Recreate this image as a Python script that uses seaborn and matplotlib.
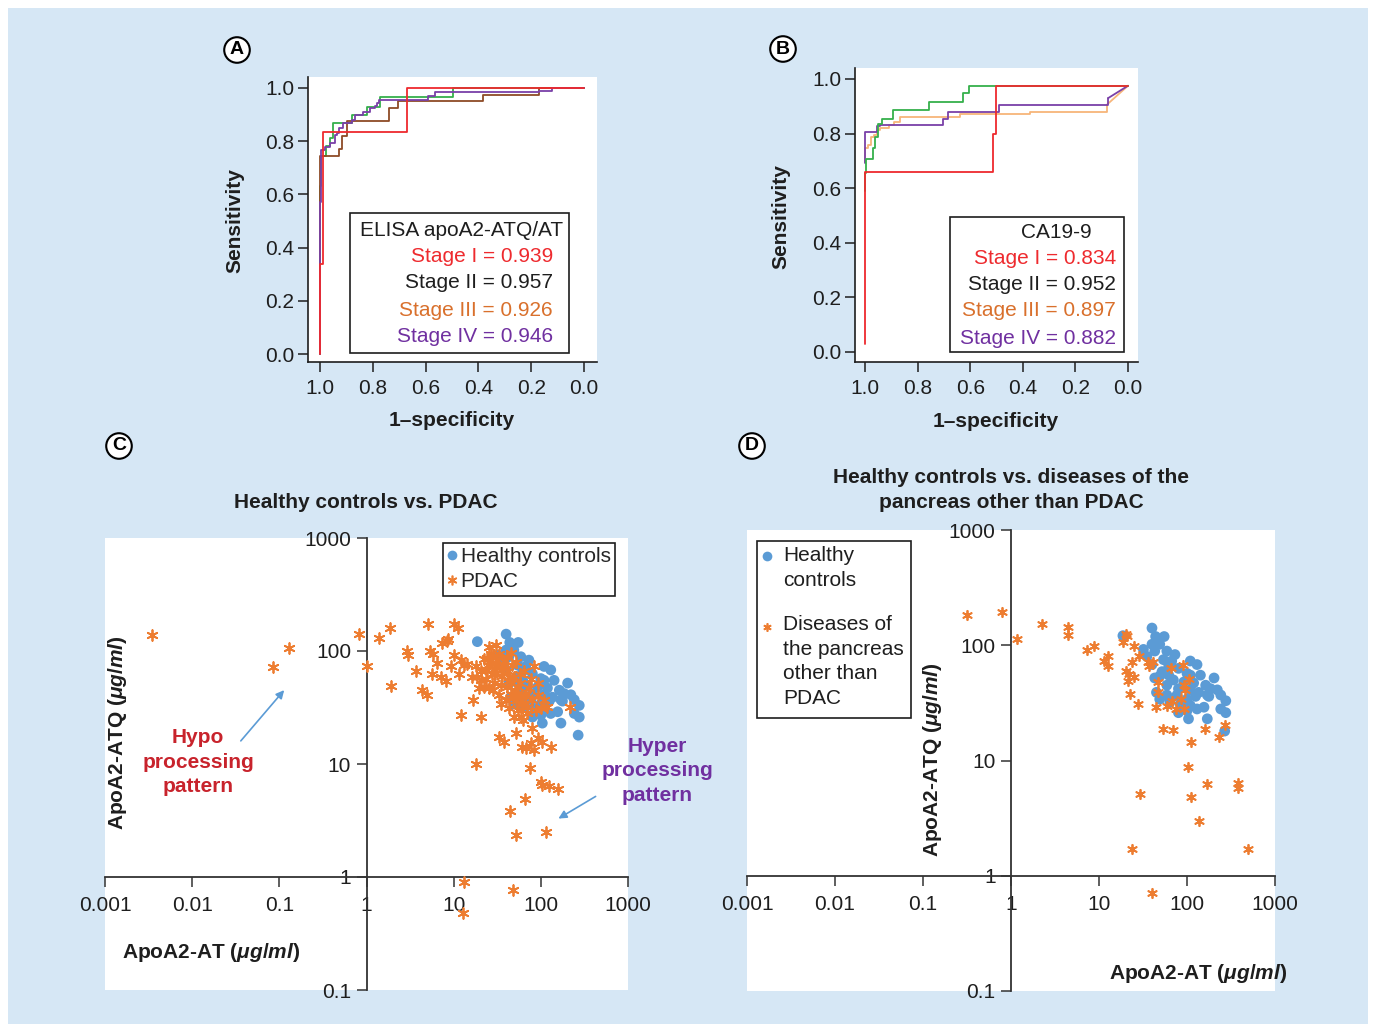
import numpy as np
import pandas as pd
import seaborn as sns
import matplotlib.pyplot as plt
from matplotlib.patches import Rectangle, FancyArrowPatch
from matplotlib.lines import Line2D
from matplotlib.ticker import NullLocator

sns.set_theme(style="white")
plt.rcParams["font.family"] = ["Liberation Sans", "DejaVu Sans"]
plt.rcParams["mathtext.fontset"] = "custom"
plt.rcParams["mathtext.rm"] = "Liberation Sans:bold"
plt.rcParams["mathtext.it"] = "Liberation Sans:bold:italic"

# ROC curves, panel A (ELISA apoA2-ATQ/AT): specificity / sensitivity step vertices
a_s1_spec = [1.0, 1.0, 0.99, 0.672, 0.0]
a_s1_sens = [0.0, 0.34, 0.835, 1.0, 1.0]
a_s2_spec = [1.0, 1.0, 0.994, 0.975, 0.960, 0.95, 0.88, 0.823, 0.773, 0.495, 0.0]
a_s2_sens = [0.0, 0.63, 0.745, 0.78, 0.81, 0.87, 0.90, 0.93, 0.967, 1.0, 1.0]
a_s3_spec = [1.0, 1.0, 0.927, 0.918, 0.899, 0.737, 0.703, 0.381, 0.169, 0.0]
a_s3_sens = [0.0, 0.745, 0.77, 0.82, 0.877, 0.924, 0.952, 0.974, 1.0, 1.0]
a_s4_spec = [1.0, 1.0, 0.997, 0.981, 0.960, 0.943, 0.937, 0.927, 0.912, 0.88, 0.867,
             0.836, 0.811, 0.792, 0.783, 0.775, 0.59, 0.564, 0.169, 0.122, 0.0]
a_s4_sens = [0.0, 0.57, 0.767, 0.777, 0.794, 0.823, 0.830, 0.848, 0.867, 0.880, 0.898,
             0.911, 0.923, 0.932, 0.942, 0.955, 0.970, 0.983, 0.987, 1.0, 1.0]

# ROC curves, panel B (CA19-9)
b_s1_spec = [1.0, 1.0, 0.515, 0.50, 0.0]
b_s1_sens = [0.028, 0.66, 0.80, 0.975, 0.975]
b_s2_spec = [1.0, 1.0, 0.996, 0.971, 0.962, 0.949, 0.937, 0.895, 0.755, 0.626, 0.603, 0.0]
b_s2_sens = [0.59, 0.654, 0.707, 0.746, 0.789, 0.834, 0.853, 0.886, 0.915, 0.947, 0.975, 0.975]
b_s3_spec = [1.0, 1.0, 0.987, 0.978, 0.966, 0.956, 0.943, 0.907, 0.89, 0.867, 0.639, 0.373, 0.081, 0.0]
b_s3_sens = [0.697, 0.746, 0.758, 0.789, 0.795, 0.813, 0.82, 0.832, 0.841, 0.862, 0.871, 0.88, 0.905, 0.975]
b_s4_spec = [1.0, 1.0, 0.956, 0.943, 0.705, 0.683, 0.489, 0.075, 0.0]
b_s4_sens = [0.691, 0.807, 0.829, 0.832, 0.853, 0.880, 0.905, 0.930, 0.975]

stage_names = ["Stage I", "Stage II", "Stage III", "Stage IV"]
auc_elisa = [0.939, 0.957, 0.926, 0.946]
auc_ca199 = [0.834, 0.952, 0.897, 0.882]

roc_ticks = [1.0, 0.8, 0.6, 0.4, 0.2, 0.0]

# Scatter data (ug/ml)
ctrl_at = [18.7, 40, 44, 55, 40, 49, 32, 43, 59, 73, 35, 54, 67, 109, 130, 62, 80, 100, 142, 203,
           49, 43, 70, 92, 119, 163, 185, 221, 59, 80, 109, 136, 170, 242, 77, 100, 125, 177, 276, 64,
           84, 109, 156, 242, 276, 100, 130, 104, 170, 268, 80, 59, 49, 45, 52, 40, 62, 109]
ctrl_atq = [121, 141, 119, 119, 102, 102, 92, 89, 89, 83, 80, 75, 73, 73, 68, 66, 63, 57, 55, 52,
            54, 52, 50, 48, 47, 45, 42, 41, 45, 42, 41, 39, 37, 37, 37, 34, 36, 36, 33, 32,
            31, 30, 29, 28, 26, 27, 28, 23, 23, 18, 26, 37, 34, 39, 59, 68, 55, 55]

pdac_at = [0.0035, 0.085, 0.13, 0.83, 1.0, 1.39, 1.85, 1.92, 2.93, 3.0,
           3.66, 4.29, 4.9, 5.1, 5.4, 5.8, 5.7, 6.5, 7.1, 7.3,
           8.1, 8.3, 8.7, 9.2, 10.1, 10.1, 11.3, 11.5, 12.2, 13.1,
           14.1, 12, 16.8, 17.9, 18.7, 20.4, 19.5, 20.4, 22.3, 23.9,
           25.5, 26.6, 27.8, 30.4, 29.1, 31.8, 34.7, 33.2, 34.7, 37.9,
           41.4, 43.3, 45.2, 47.3, 49.4, 51.6, 54, 58.9, 64.3, 67.3,
           70.3, 76.7, 80.2, 83.8, 91.6, 100, 119, 217, 63.2, 80.2,
           33.2, 37.9, 51.6, 61.5, 67.3, 76.7, 83.8, 91.6, 104, 130,
           17.9, 75.4, 100, 104, 125, 156, 65.5, 44.5, 114, 51.6,
           54, 43.3, 39.6, 29.1, 23.3, 25.5, 49.4, 70.3, 87.6, 109,
           58.9, 41.4, 31.8, 27.8, 20.4, 16.4, 91.6, 73.5, 57.8, 13,
           12.7, 47.7, 22, 25, 28, 33, 36, 38, 42, 46,
           50, 55, 60, 65, 48, 28, 35, 30, 24, 45,
           52, 57]
pdac_atq = [139, 72, 106, 141, 74, 131, 159, 49, 100, 92,
            66, 45, 41, 172, 99, 94, 63, 78, 59, 117,
            54, 123, 128, 73, 173, 92, 159, 63, 83, 75,
            77, 27, 37, 73, 59, 26, 47, 55, 48, 86,
            109, 95, 63, 113, 52, 75, 68, 41, 34, 73,
            48, 31, 42, 75, 59, 37, 30, 26, 66, 42,
            28, 57, 37, 73, 41, 31, 32, 32, 24.5, 20.7,
            17.5, 15.8, 18.7, 14.2, 13.8, 15.2, 13.3, 16.9, 15.8, 14.2,
            9.9, 9.2, 7.0, 6.5, 6.4, 6.0, 4.9, 3.8, 2.5, 2.35,
            39, 59, 37, 70, 57, 47, 26, 32, 30, 37,
            34, 89, 83, 78, 66, 59, 52, 47, 52, 0.9,
            0.48, 0.77, 85, 75, 90, 95, 60, 82, 66, 52,
            45, 48, 40, 35, 38, 45, 50, 62, 68, 96,
            80, 62]

other_at = [0.32, 0.80, 1.17, 2.23, 4.48, 4.48, 7.3, 8.7, 11.5, 12.8,
            12.6, 18.6, 20.3, 20.8, 24.8, 23.5, 20.3, 22.1, 24.8, 21.2,
            22.7, 27.5, 28.7, 35.7, 37.3, 40.8, 46.5, 47.2, 44.4, 59.3,
            67, 65.8, 75, 89, 85.5, 92, 92, 95, 106, 54,
            70, 111, 160, 233, 270, 103, 29.5, 111, 169, 383,
            382, 138, 23.5, 490, 40]
other_atq = [182, 195, 113, 152, 145, 123, 91, 99, 73, 81,
             66, 107, 125, 120, 99, 72, 60, 56, 53, 49,
             38, 31, 80, 71, 66, 72, 48, 39, 29, 30,
             33, 63, 28, 68, 34, 28, 45, 41, 51, 18.6,
             18.4, 14.4, 18.9, 16.1, 20.2, 8.7, 5.1, 4.8, 6.2, 6.4,
             5.8, 3.0, 1.7, 1.7, 0.71]

log_ticks_x = [0.001, 0.01, 0.1, 1, 10, 100, 1000]
log_labels_x = ["0.001", "0.01", "0.1", "1", "10", "100", "1000"]
log_ticks_y = [0.1, 1, 10, 100, 1000]
log_labels_y = ["0.1", "1", "10", "100", "1000"]

W, H = 1374, 1024
BG = "#d6e7f5"
BLUE = "#5b9bd5"
ORANGE = "#ed7d31"
RED = "#ee2a2e"
GREEN = "#35b04b"
BROWN = "#8e4b26"
PURPLE = "#7a40a8"
PEACH = "#f7b57a"
TXT_ORANGE = "#d9702c"
TXT_PURPLE = "#7030a0"
INK = "#1e1e1e"
FS = 15
LS = 1.38
UNIT = "($\\mathit{μg/ml}$)"


def fx(px):
    return px / W


def fy(py):
    return 1 - py / H


def rect(x0, y0, x1, y1):
    return [fx(x0), fy(y1), fx(x1) - fx(x0), fy(y0) - fy(y1)]


fig = plt.figure(figsize=(W / 100, H / 100), dpi=100, facecolor="white")
fig.add_artist(Rectangle((fx(8), 0), fx(1368) - fx(8), fy(8), transform=fig.transFigure,
                         facecolor=BG, edgecolor="none", zorder=-10))


def roc(ax, spec, sens, color, tail=False):
    n = len(spec) - 1 if tail else len(spec)
    sns.lineplot(x=spec[:n], y=sens[:n], ax=ax, color=color, lw=1.3, sort=False,
                 estimator=None, drawstyle="steps-post")
    if tail:
        sns.lineplot(x=spec[-2:], y=sens[-2:], ax=ax, color=color, lw=1.3, sort=False,
                     estimator=None)


def roc_axes(box, xlim, ylim, xlab, ylab):
    ax = fig.add_axes(rect(*box))
    ax.set_facecolor("white")
    ax.set_xlim(*xlim)
    ax.set_ylim(*ylim)
    ax.set_xticks(roc_ticks, [f"{t:.1f}" for t in roc_ticks])
    ax.set_yticks(roc_ticks, [f"{t:.1f}" for t in roc_ticks])
    for s in ["top", "right"]:
        ax.spines[s].set_visible(False)
    for s in ["left", "bottom"]:
        ax.spines[s].set_color(INK)
        ax.spines[s].set_linewidth(1.2)
    ax.tick_params(direction="out", length=7, width=1.1, color=INK, labelcolor=INK,
                   labelsize=FS, left=True, bottom=True)
    ax.tick_params(axis="y", pad=3)
    ax.tick_params(axis="x", pad=5)
    ax.set_xlabel("1\u2013specificity", fontsize=FS, fontweight="bold", color=INK)
    ax.set_ylabel("Sensitivity", fontsize=FS, fontweight="bold", color=INK)
    ax.xaxis.set_label_coords(*xlab)
    ax.yaxis.set_label_coords(*ylab)
    ax.xaxis.label.set_va("center")
    ax.yaxis.label.set_va("center")
    return ax


# Panel A
ax_a = roc_axes((308, 77, 597, 362), (1.045, -0.049), (-0.03, 1.041), (0.498, -0.207), (-0.253, 0.498))
roc(ax_a, a_s2_spec, a_s2_sens, GREEN)
roc(ax_a, a_s3_spec, a_s3_sens, BROWN)
roc(ax_a, a_s4_spec, a_s4_sens, PURPLE)
roc(ax_a, a_s1_spec, a_s1_sens, RED)

# Panel B
ax_b = roc_axes((855, 68, 1138, 362), (1.038, -0.038), (-0.037, 1.040), (0.498, -0.201), (-0.262, 0.493))
roc(ax_b, b_s3_spec, b_s3_sens, PEACH, tail=True)
roc(ax_b, b_s4_spec, b_s4_sens, PURPLE, tail=True)
roc(ax_b, b_s2_spec, b_s2_sens, GREEN)
roc(ax_b, b_s1_spec, b_s1_sens, RED)

stage_colors = [RED, INK, TXT_ORANGE, TXT_PURPLE]


def auc_box(x0, y0, x1, y1, header, hx, hy, right, ys, aucs):
    fig.add_artist(Rectangle((fx(x0), fy(y1)), fx(x1) - fx(x0), fy(y0) - fy(y1),
                             transform=fig.transFigure, facecolor="white", edgecolor=INK,
                             lw=1.2, zorder=5))
    fig.text(fx(hx), fy(hy), header, ha="center", va="center", fontsize=FS, color=INK, zorder=6)
    for name, auc, col, y in zip(stage_names, aucs, stage_colors, ys):
        fig.text(fx(right), fy(y), f"{name} = {auc:.3f}", ha="right", va="center",
                 fontsize=FS, color=col, zorder=6)


auc_box(350, 213, 569, 353, "ELISA apoA2-ATQ/AT", 462, 230, 553, [257, 283, 310, 336], auc_elisa)
auc_box(950, 217, 1124, 352, "CA19-9", 1056, 232, 1116, [259, 285, 311, 338], auc_ca199)


def scatter_axes(box, xlab, ylab):
    ax = fig.add_axes(rect(*box))
    ax.set_facecolor("white")
    ax.set_xscale("log")
    ax.set_yscale("log")
    ax.set_xlim(1e-3, 1e3)
    ax.set_ylim(0.1, 1e3)
    ax.spines["left"].set_position(("data", 1))
    ax.spines["bottom"].set_position(("data", 1))
    for s in ["top", "right"]:
        ax.spines[s].set_visible(False)
    for s in ["left", "bottom"]:
        ax.spines[s].set_color("#333333")
        ax.spines[s].set_linewidth(1.3)
    ax.set_xticks(log_ticks_x, log_labels_x)
    ax.set_yticks(log_ticks_y, log_labels_y)
    ax.xaxis.set_minor_locator(NullLocator())
    ax.yaxis.set_minor_locator(NullLocator())
    ax.tick_params(direction="out", length=7, width=1.1, color="#333333", labelcolor=INK,
                   labelsize=FS, left=True, bottom=True)
    ax.tick_params(axis="x", pad=7)
    ax.tick_params(axis="y", pad=4)
    ax.set_xlabel("ApoA2-AT " + UNIT, fontsize=FS, fontweight="bold", color=INK)
    ax.set_ylabel("ApoA2-ATQ " + UNIT, fontsize=FS, fontweight="bold", color=INK)
    ax.xaxis.set_label_coords(*xlab)
    ax.yaxis.set_label_coords(*ylab)
    ax.xaxis.label.set_va("center")
    ax.yaxis.label.set_va("center")
    return ax


# Panel C
ax_c = scatter_axes((105, 538, 628, 990), (0.203, 0.082), (0.023, 0.569))
sns.scatterplot(x=ctrl_at, y=ctrl_atq, ax=ax_c, color=BLUE, s=60, edgecolor="none", zorder=3)
sns.scatterplot(x=pdac_at, y=pdac_atq, ax=ax_c, color=ORANGE, marker=(6, 2, 0), s=60,
                linewidth=1.3, zorder=4)
handles = [Line2D([], [], marker="o", ls="", color=BLUE, markersize=7, markeredgewidth=0),
           Line2D([], [], marker=(6, 2, 0), ls="", color=ORANGE, markersize=7, markeredgewidth=1.2)]
leg = ax_c.legend(handles, ["Healthy controls", "PDAC"], loc="upper left",
                  bbox_to_anchor=(fx(443), fy(543)), bbox_transform=fig.transFigure,
                  frameon=True, fancybox=False, edgecolor=INK, framealpha=1, fontsize=FS,
                  handlelength=0.5, handletextpad=0.15, borderpad=0.2, labelspacing=0.3,
                  borderaxespad=0)
leg.get_frame().set_linewidth(1.2)

# Panel D
ax_d = scatter_axes((747, 530, 1275, 991), (0.854, 0.039), (0.352, 0.501))
sns.scatterplot(x=ctrl_at, y=ctrl_atq, ax=ax_d, color=BLUE, s=60, edgecolor="none", zorder=3)
sns.scatterplot(x=other_at, y=other_atq, ax=ax_d, color=ORANGE, marker=(6, 2, 0), s=45,
                linewidth=1.3, zorder=4)

# manual legend for D (labels wrap over several lines)
fig.add_artist(Rectangle((fx(757), fy(718)), fx(911) - fx(757), fy(541) - fy(718),
                         transform=fig.transFigure, facecolor="white", edgecolor=INK,
                         lw=1.2, zorder=5))
fig.add_artist(Line2D([fx(767)], [fy(556)], marker="o", ls="", color=BLUE, markersize=7,
                      markeredgewidth=0, transform=fig.transFigure, zorder=6))
fig.add_artist(Line2D([fx(767)], [fy(627)], marker=(6, 2, 0), ls="", color=ORANGE,
                      markersize=6, markeredgewidth=1.2, transform=fig.transFigure, zorder=6))
fig.text(fx(783), fy(546), "Healthy\ncontrols", ha="left", va="top", fontsize=FS,
         color=INK, linespacing=LS, zorder=6)
fig.text(fx(783), fy(615), "Diseases of\nthe pancreas\nother than\nPDAC", ha="left", va="top",
         fontsize=FS, color=INK, linespacing=LS, zorder=6)

# titles
fig.text(fx(366), fy(503), "Healthy controls vs. PDAC", ha="center", va="center",
         fontsize=FS, fontweight="bold", color=INK)
fig.text(fx(1011), fy(490), "Healthy controls vs. diseases of the\npancreas other than PDAC",
         ha="center", va="center", fontsize=FS, fontweight="bold", color=INK, linespacing=LS)

# annotations
fig.text(fx(198), fy(762), "Hypo\nprocessing\npattern", ha="center", va="center",
         fontsize=FS, fontweight="bold", color="#c8232c", linespacing=LS, zorder=6)
fig.text(fx(657), fy(771), "Hyper\nprocessing\npattern", ha="center", va="center",
         fontsize=FS, fontweight="bold", color=TXT_PURPLE, linespacing=LS, zorder=6)
for start, end in [((239, 743), (286, 688)), ((598, 795), (556, 820))]:
    fig.add_artist(FancyArrowPatch((fx(start[0]), fy(start[1])), (fx(end[0]), fy(end[1])),
                                   transform=fig.transFigure, arrowstyle="-|>",
                                   mutation_scale=12, color=BLUE, lw=1.2, zorder=6))

# panel letters
for letter, px, py in [("A", 237, 50), ("B", 783, 49), ("C", 119, 446), ("D", 752, 446)]:
    fig.text(fx(px), fy(py), letter, ha="center", va="center", fontsize=14, fontweight="bold",
             color="black", zorder=6,
             bbox=dict(boxstyle="circle,pad=0.22", facecolor="white", edgecolor="black", lw=1.5))

fig.savefig("out.png", dpi=100, facecolor=fig.get_facecolor())
